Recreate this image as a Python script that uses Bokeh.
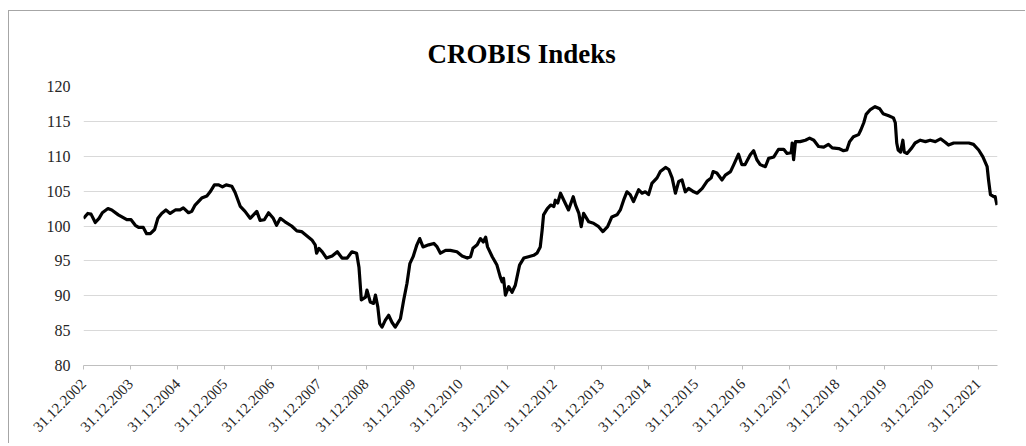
import math
from bokeh.plotting import figure
from bokeh.models import Range1d, FixedTicker, ColumnDataSource
from bokeh.embed import file_html
from bokeh.resources import INLINE

TITLE = "CROBIS Indeks"
tick_years = list(range(2003, 2023))
tick_labels = ["31.12.%d" % (y - 1) for y in tick_years]
y_ticks = [80, 85, 90, 95, 100, 105, 110, 115, 120]

# time in decimal years (2003.00 = 31.12.2002)
t = [2003.00, 2003.09, 2003.16, 2003.25, 2003.33, 2003.40, 2003.52, 2003.60, 2003.74, 2003.92,
     2004.01, 2004.10, 2004.17, 2004.27, 2004.34, 2004.42, 2004.51, 2004.58, 2004.66, 2004.75,
     2004.84, 2004.95, 2005.05, 2005.12, 2005.23, 2005.30, 2005.37, 2005.51, 2005.62, 2005.69,
     2005.78, 2005.87, 2005.95, 2006.03, 2006.15, 2006.22, 2006.33, 2006.43, 2006.54, 2006.61,
     2006.68, 2006.75, 2006.84, 2006.93, 2007.03, 2007.10, 2007.18, 2007.28, 2007.42, 2007.53,
     2007.63, 2007.74, 2007.85, 2007.92, 2007.95, 2008.00, 2008.07, 2008.16, 2008.28, 2008.39,
     2008.49, 2008.60, 2008.70, 2008.80, 2008.85, 2008.90, 2008.99, 2009.02, 2009.09, 2009.16,
     2009.20, 2009.25, 2009.29, 2009.34, 2009.41, 2009.48, 2009.55, 2009.62, 2009.73, 2009.80,
     2009.87, 2009.93, 2010.00, 2010.08, 2010.14, 2010.21, 2010.33, 2010.44, 2010.51, 2010.58,
     2010.69, 2010.79, 2010.93, 2011.04, 2011.15, 2011.22, 2011.27, 2011.36, 2011.43, 2011.49,
     2011.54, 2011.58, 2011.68, 2011.78, 2011.85, 2011.89, 2011.92, 2011.96, 2012.03, 2012.10,
     2012.17, 2012.26, 2012.35, 2012.45, 2012.56, 2012.63, 2012.70, 2012.74, 2012.77, 2012.85,
     2012.92, 2012.99, 2013.02, 2013.07, 2013.13, 2013.20, 2013.30, 2013.40, 2013.45, 2013.52,
     2013.57, 2013.62, 2013.73, 2013.83, 2013.94, 2014.03, 2014.13, 2014.22, 2014.33, 2014.40,
     2014.47, 2014.54, 2014.61, 2014.68, 2014.79, 2014.86, 2014.93, 2015.00, 2015.07, 2015.18,
     2015.25, 2015.36, 2015.43, 2015.50, 2015.57, 2015.64, 2015.71, 2015.78, 2015.85, 2015.96,
     2016.03, 2016.14, 2016.24, 2016.33, 2016.37, 2016.45, 2016.56, 2016.63, 2016.74, 2016.81,
     2016.91, 2016.98, 2017.05, 2017.16, 2017.23, 2017.30, 2017.37, 2017.48, 2017.55, 2017.66,
     2017.76, 2017.87, 2017.94, 2018.03, 2018.05, 2018.08, 2018.12, 2018.22, 2018.33, 2018.42,
     2018.51, 2018.61, 2018.72, 2018.82, 2018.90, 2019.04, 2019.14, 2019.21, 2019.27, 2019.35,
     2019.46, 2019.51, 2019.57, 2019.62, 2019.71, 2019.81, 2019.91, 2019.98, 2020.10, 2020.20,
     2020.24, 2020.27, 2020.30, 2020.35, 2020.40, 2020.43, 2020.49, 2020.59, 2020.66, 2020.77,
     2020.88, 2020.98, 2021.09, 2021.20, 2021.30, 2021.37, 2021.48, 2021.58, 2021.69, 2021.80,
     2021.90, 2022.01, 2022.10, 2022.19, 2022.22, 2022.26, 2022.33, 2022.36, 2022.40]

index = [101.1, 101.8, 101.7, 100.5, 101.1, 101.9, 102.5, 102.3, 101.6, 100.9,
         100.9, 100.1, 99.8, 99.8, 98.9, 98.9, 99.5, 101.1, 101.8, 102.3,
         101.8, 102.3, 102.3, 102.6, 101.9, 102.1, 103.0, 104.0, 104.3, 104.9,
         105.9, 105.9, 105.6, 105.9, 105.7, 104.8, 102.8, 102.1, 101.1, 101.6,
         102.1, 100.8, 100.9, 101.9, 101.1, 100.1, 101.1, 100.6, 100.0, 99.3,
         99.2, 98.6, 98.0, 97.3, 96.1, 96.8, 96.3, 95.4, 95.7, 96.3,
         95.4, 95.4, 96.3, 96.1, 94.1, 89.4, 89.8, 90.8, 89.1, 88.9,
         90.1, 88.4, 86.0, 85.5, 86.5, 87.2, 86.2, 85.5, 86.7, 89.4,
         91.8, 94.6, 95.6, 97.3, 98.2, 97.0, 97.3, 97.5, 97.0, 96.1,
         96.5, 96.5, 96.3, 95.7, 95.4, 95.6, 96.8, 97.3, 98.2, 97.7,
         98.4, 97.0, 95.6, 94.4, 92.7, 92.0, 92.5, 90.1, 91.3, 90.5,
         91.5, 94.4, 95.4, 95.6, 95.8, 96.1, 97.0, 99.4, 101.6, 102.5,
         103.0, 102.8, 103.7, 103.3, 104.7, 103.7, 102.3, 104.2, 103.0, 101.8,
         99.9, 101.8, 100.6, 100.4, 99.9, 99.2, 99.9, 101.3, 101.6, 102.3,
         103.7, 104.9, 104.5, 103.5, 105.2, 104.7, 104.9, 104.5, 106.1, 106.9,
         107.8, 108.4, 108.1, 106.9, 104.7, 106.4, 106.6, 104.9, 105.4, 104.9,
         104.7, 105.4, 106.4, 106.9, 107.8, 107.6, 106.6, 107.3, 107.8, 108.8,
         110.3, 108.8, 108.8, 110.2, 110.8, 109.5, 108.8, 108.5, 109.7, 109.9,
         111.0, 111.0, 110.4, 110.5, 111.9, 109.5, 112.1, 112.1, 112.3, 112.6,
         112.3, 111.4, 111.3, 111.7, 111.2, 111.1, 110.8, 110.9, 112.1, 112.8,
         113.1, 113.8, 114.8, 116.0, 116.7, 117.1, 116.8, 116.1, 115.8, 115.5,
         114.8, 111.9, 110.9, 110.6, 112.3, 110.6, 110.4, 111.2, 111.9, 112.3,
         112.1, 112.3, 112.1, 112.5, 112.0, 111.6, 111.9, 111.9, 111.9, 111.9,
         111.7, 110.9, 109.9, 108.5, 106.6, 104.5, 104.2, 104.2, 103.0]

FONT = "Liberation Serif"

p = figure(width=1017, height=433, output_backend="svg", toolbar_location=None,
           x_range=Range1d(2003.0, 2022.41), y_range=Range1d(80, 120),
           min_border_left=74, min_border_right=29, min_border_top=75, min_border_bottom=79)
p.styles = {"border-top": "1px solid #a6a6a6", "border-left": "1px solid #a6a6a6",
            "margin-top": "10px", "margin-left": "8px"}
p.outline_line_color = None
p.background_fill_color = "white"
p.border_fill_color = "white"

src = ColumnDataSource(dict(t=t, v=index))
p.line("t", "v", source=src, line_color="black", line_width=3.2, line_join="round")

p.xgrid.visible = False
p.ygrid.grid_line_color = "#d9d9d9"
p.ygrid.grid_line_width = 1

p.yaxis.ticker = FixedTicker(ticks=y_ticks)
p.yaxis.axis_line_color = None
p.yaxis.major_tick_line_color = None
p.yaxis.minor_tick_line_color = None
p.yaxis.major_label_text_font = FONT
p.yaxis.major_label_text_font_size = "16px"
p.yaxis.major_label_text_color = "#262626"
p.yaxis.major_label_standoff = 7

p.xaxis.ticker = FixedTicker(ticks=tick_years)
p.xaxis.major_label_overrides = {float(y): lab for y, lab in zip(tick_years, tick_labels)}
p.xaxis.axis_line_color = "#bfbfbf"
p.xaxis.major_tick_line_color = "#bfbfbf"
p.xaxis.major_tick_out = 4
p.xaxis.major_tick_in = 0
p.xaxis.minor_tick_line_color = None
p.xaxis.major_label_orientation = math.pi / 4
p.xaxis.major_label_text_font = FONT
p.xaxis.major_label_text_font_size = "15px"
p.xaxis.major_label_text_color = "#262626"
p.xaxis.major_label_standoff = 12

p.title.text = TITLE
p.title.align = "left"
p.title.offset = 344
p.title.standoff = 32
p.title.vertical_align = "top"
p.title.text_font = FONT
p.title.text_font_size = "27px"
p.title.text_font_style = "bold"
p.title.text_color = "black"

open("out.html", "w").write(file_html(p, INLINE))
